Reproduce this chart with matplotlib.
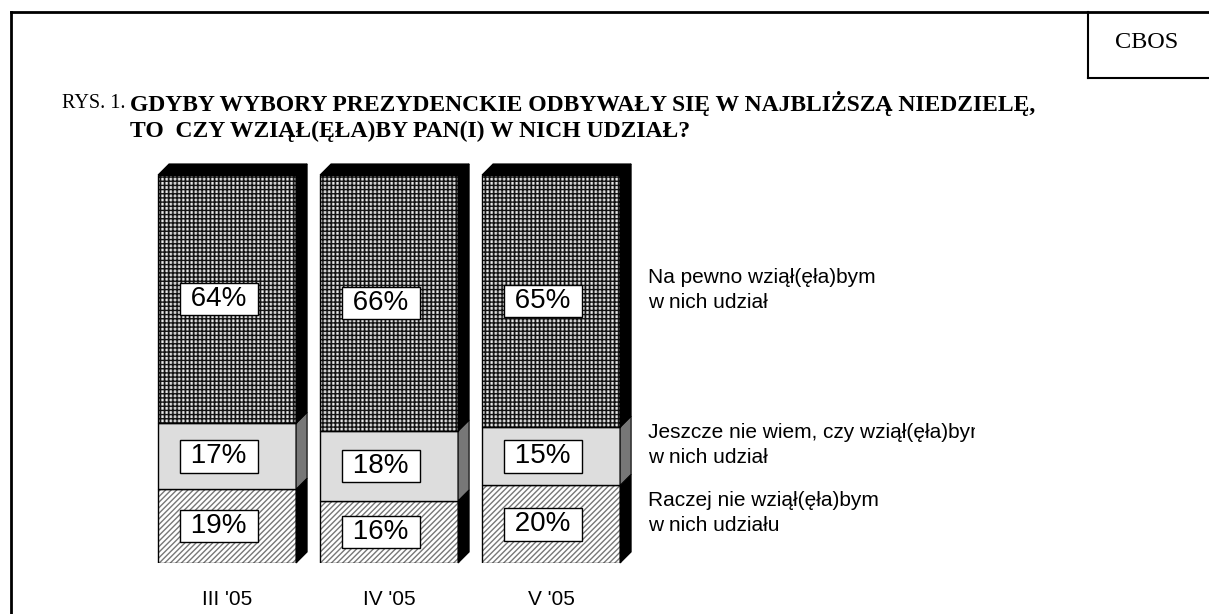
import numpy as np
import matplotlib
matplotlib.use('Agg')
import matplotlib.pyplot as plt
from matplotlib.patches import Polygon
from matplotlib.lines import Line2D
from matplotlib.transforms import Bbox, TransformedBbox

# dane z rysunku
periods = ["III '05", "IV '05", "V '05"]
rather_not = [19, 16, 20]
undecided = [17, 18, 15]
certain = [64, 66, 65]
series_labels = [
    'Raczej nie wziął(ęła)bym\nw nich udziału',
    'Jeszcze nie wiem, czy wziął(ęła)bym\nw nich udział',
    'Na pewno wziął(ęła)bym\nw nich udział',
]

plt.rcParams['hatch.linewidth'] = 1.0
SANS = 'Liberation Sans'
SERIF = 'Liberation Serif'

fig = plt.figure(figsize=(12.09, 6.14), dpi=100)
ax = fig.add_axes([0.1208, 0.0831, 0.402, 0.6319])
ax.set_xlim(-0.5, 2.5)
ax.set_ylim(0, 100)
ax.axis('off')

x = np.arange(len(periods))
width = 0.852
dx, dy = 0.068, 2.84  # glebia efektu 3D

segments = [
    (np.array(rather_not), [dict(facecolor='white', edgecolor='#777777', hatch='//////')], 'black'),
    (np.array(undecided), [dict(facecolor='#dddddd', edgecolor='#dddddd')], '#777777'),
    (np.array(certain), [dict(facecolor='white', edgecolor='#b4b4b4', hatch='||||||||'),
                         dict(facecolor='none', edgecolor='#111111', hatch='++++')], 'black'),
]

bottom = np.zeros(len(periods))
for vals, styles, side_col in segments:
    for style in styles:
        ax.bar(x, vals, width, bottom=bottom, linewidth=0, **style)
    ax.bar(x, vals, width, bottom=bottom, facecolor='none', edgecolor='black', linewidth=1.0)
    for xi, b, v in zip(x, bottom, vals):
        xr = xi + width / 2
        side = Polygon([(xr, b), (xr + dx, b + dy), (xr + dx, b + v + dy), (xr, b + v)],
                       closed=True, facecolor=side_col, edgecolor='black', linewidth=0.8,
                       clip_on=False)
        ax.add_patch(side)
        ax.text(xi - 0.05, b + v / 2, f' {v}% ', ha='center', va='center', fontsize=20,
                family=SANS, bbox=dict(boxstyle='square,pad=0.12', facecolor='white',
                                        edgecolor='black', linewidth=1.0))
    bottom = bottom + vals

# gorna sciana
for xi, top in zip(x, bottom):
    xl, xr = xi - width / 2, xi + width / 2
    ax.add_patch(Polygon([(xl, top), (xl + dx, top + dy), (xr + dx, top + dy), (xr, top)],
                         closed=True, facecolor='black', edgecolor='black', linewidth=0.8,
                         clip_on=False))

# podpisy okresow
for xi, p in zip(x, periods):
    ax.text(xi, -9.5, p, ha='center', va='center', fontsize=15, family=SANS)

# legenda przy ostatnim slupku
clip = TransformedBbox(Bbox([[0, 0], [975 / 1209, 1]]), fig.transFigure)
b = 0
for (vals, _, _), lab in zip(segments, series_labels):
    v = vals[-1]
    t = ax.text(2.6, b + v / 2 + dy, lab, ha='left', va='center', fontsize=15,
                family=SANS, linespacing=1.4)
    t.set_clip_box(clip)
    t.set_clip_on(True)
    b += v

# tytul
fig.text(62 / 1209, 1 - 103 / 614, 'RYS. 1.', ha='left', va='center', fontsize=14.5, family=SERIF)
fig.text(130 / 1209, 1 - 103 / 614, 'GDYBY WYBORY PREZYDENCKIE ODBYWAŁY SIĘ W NAJBLIŻSZĄ NIEDZIELĘ,',
         ha='left', va='center', fontsize=17, family=SERIF, fontweight='bold')
fig.text(130 / 1209, 1 - 131 / 614, 'TO  CZY WZIĄŁ(ĘŁA)BY PAN(I) W NICH UDZIAŁ?',
         ha='left', va='center', fontsize=17, family=SERIF, fontweight='bold')

# ramka i CBOS
W, H = 1209, 614
def fline(xs, ys, lw=2):
    fig.add_artist(Line2D([v / W for v in xs], [1 - v / H for v in ys], color='black',
                          linewidth=lw, transform=fig.transFigure))
fline([11, 1209], [12, 12])
fline([11, 11], [12, 614])
fline([1088, 1088], [12, 78], 1.5)
fline([1088, 1209], [78, 78], 1.5)
fig.text(1147 / W, 1 - 42 / H, 'CBOS', ha='center', va='center', fontsize=17.5, family=SERIF)

fig.savefig('out.png', dpi=100)
